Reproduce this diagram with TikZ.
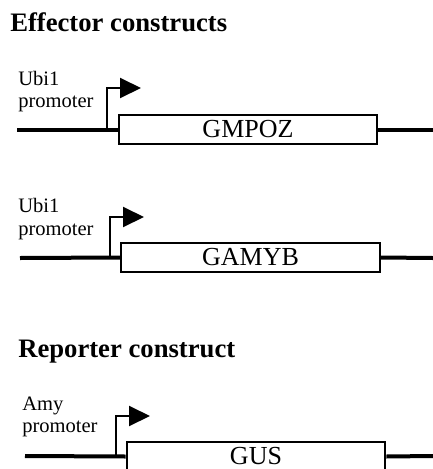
\documentclass[tikz,border=0pt]{standalone}
\usepackage{fontspec}
\setmainfont{Liberation Serif}
\usetikzlibrary{positioning}
\usetikzlibrary{arrows.meta}

\begin{document}
\begin{tikzpicture}[x=0.75pt,y=-0.75pt,
      title/.style={anchor=base west,inner sep=0pt,font=\fontsize{20}{24}\bfseries},
      lbl/.style={anchor=base west,inner sep=0pt,font=\fontsize{15.4}{18}\selectfont},
      gene/.style={draw,line width=1.5pt,fill=white,inner sep=0pt,
        minimum width=194pt,minimum height=21.75pt,font=\fontsize{19.5}{22}\selectfont},
      dna/.style={line width=3pt},
      prom/.style={line width=1.5pt,-{Triangle[length=15.75pt,width=15pt]}}]
    \useasboundingbox (0,0) rectangle (433,469);
    \node[title] (eff) at (10,31) {Effector constructs};
    \node[lbl] (ubia) at (18,85) {Ubi1};
    \node[lbl] (proma) at (18,107) {promoter};
    \coordinate (la) at (17,129.5);
    \coordinate (ra) at (433,129.5);
    \coordinate (pa) at (107,129.5);
    \coordinate (ta) at (141,88);
    \node[gene] (gmpoz) at (248,129.5) {GMPOZ};
    \draw[dna] (la) -- (gmpoz.west);
    \draw[dna] (gmpoz.east) -- (ra);
    \draw[prom] (pa) |- (ta);
    \node[lbl] (ubib) at (18,212) {Ubi1};
    \node[lbl] (promb) at (18,235) {promoter};
    \coordinate (lb) at (20,258);
    \coordinate (rb) at (433,258);
    \coordinate (pb) at (110,258);
    \coordinate (tb) at (144,217);
    \node[gene] (gamyb) at (250.5,257.5) {GAMYB};
    \draw[dna] (lb) -- (gamyb.west);
    \draw[dna] (gamyb.east) -- (rb);
    \draw[prom] (pb) |- (tb);
    \node[title] (rep) at (18,357) {Reporter construct};
    \node[lbl] (amy) at (22,410) {Amy};
    \node[lbl] (promc) at (22,432) {promoter};
    \coordinate (lc) at (25,456);
    \coordinate (rc) at (433,456);
    \coordinate (pc) at (116,456);
    \coordinate (tc) at (150,416);
    \node[gene] (gus) at (256,456.5) {GUS};
    \draw[dna] (lc) -- (gus.west);
    \draw[dna] (gus.east) -- (rc);
    \draw[prom] (pc) |- (tc);
\end{tikzpicture}
\end{document}
